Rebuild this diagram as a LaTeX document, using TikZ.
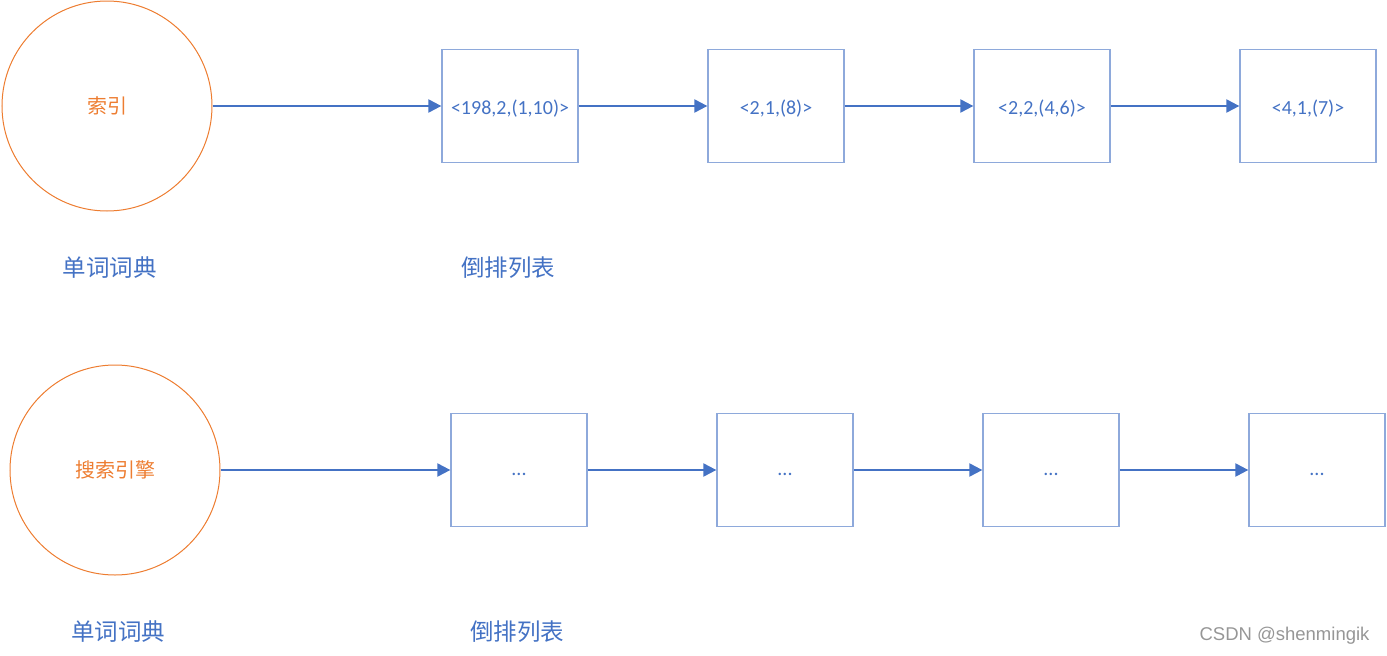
\documentclass[tikz,border=0pt]{standalone}
\usepackage{fontspec}
\setmainfont{Carlito}
\newfontfamily\cjk{Noto Sans CJK SC}
\usetikzlibrary{arrows.meta}
\definecolor{offorange}{RGB}{237,125,49}
\definecolor{offblue}{RGB}{68,114,196}
\definecolor{boxblue}{RGB}{142,169,219}
\definecolor{wmgray}{RGB}{150,150,150}
\begin{document}
\begin{tikzpicture}[x=1pt,y=-1pt,
  dict/.style={circle,draw=offorange,line width=1pt,minimum size=210pt,inner sep=0pt,text=offorange,font=\cjk\fontsize{20}{22}\selectfont},
  post/.style={rectangle,draw=boxblue,line width=1.3pt,minimum width=136pt,minimum height=113pt,inner sep=0pt,text=offblue,font=\fontsize{20}{24}\selectfont},
  toptext/.style={text height=21pt,text depth=4pt},
  bottext/.style={text height=14pt,text depth=4pt},
  caption/.style={text=offblue,font=\cjk\fontsize{23.5}{26}\selectfont},
  link/.style={draw=offblue,line width=2.2pt,-{Triangle[length=13pt,width=13pt]}}]
\useasboundingbox (0,0) rectangle (1387,656);
% top row
\node[dict] (c1) at (107,106) {索引};
\node[post,toptext] (a1) at (510,106) {<198,2,(1,10)>};
\node[post,toptext] (a2) at (776,106) {<2,1,(8)>};
\node[post,toptext] (a3) at (1042,106) {<2,2,(4,6)>};
\node[post,toptext] (a4) at (1308,106) {<4,1,(7)>};
\draw[link] (c1.east) -- (a1.west);
\draw[link] (a1) -- (a2);
\draw[link] (a2) -- (a3);
\draw[link] (a3) -- (a4);
\node[caption] (l1) at (109.5,268) {单词词典};
\node[caption] (l2) at (508,268) {倒排列表};
% bottom row
\node[dict] (c2) at (115,470) {搜索引擎};
\node[post,bottext] (b1) at (519,470) {...};
\node[post,bottext] (b2) at (785,470) {...};
\node[post,bottext] (b3) at (1051,470) {...};
\node[post,bottext] (b4) at (1317,470) {...};
\draw[link] (c2.east) -- (b1.west);
\draw[link] (b1) -- (b2);
\draw[link] (b2) -- (b3);
\draw[link] (b3) -- (b4);
\node[caption] (l3) at (118,632) {单词词典};
\node[caption] (l4) at (517,632) {倒排列表};
\node[text=wmgray,font=\fontspec{Liberation Sans}\fontsize{18.5}{20}\selectfont,anchor=east] (wm) at (1373,636) {CSDN @shenmingik};
\end{tikzpicture}
\end{document}
